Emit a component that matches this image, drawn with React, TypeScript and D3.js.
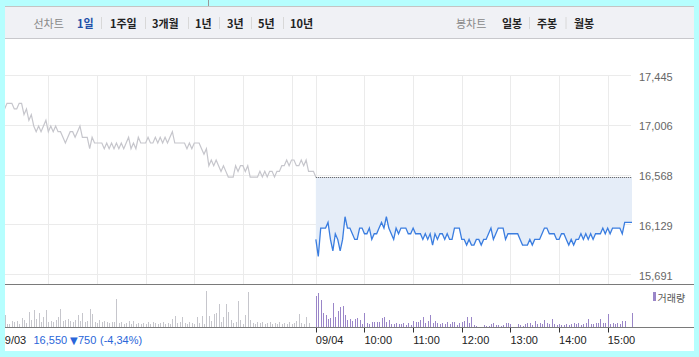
import React from 'react';
import * as d3 from 'd3';

const W = 699;
const H = 357;
const STEP = 3; // minutes per sample
const prevClose = 16550;
const yTicks = [15691, 16129, 16568, 17006, 17445];
const leftTabs = ['1일', '1주일', '3개월', '1년', '3년', '5년', '10년'];
const rightTabs = ['일봉', '주봉', '월봉'];
const dayLabels = ['09/03', '09/04'];
const hourLabels = ['10:00', '11:00', '12:00', '13:00', '14:00', '15:00'];
const summary = ['16,550', '▼', '750', '(-4,34%)'];

const day1Price = [
  17150, 17150, 17150, 17200, 17200, 17200, 17150, 17150, 17200, 17200,
  17100, 17150, 17050, 17100, 17000, 16950, 17000, 16950, 17000, 17050,
  16950, 17000, 16950, 17000, 16950, 16950, 16900, 16850, 16900, 16950,
  16950, 16900, 16950, 17000, 16900, 16900, 16900, 16800, 16900, 16850,
  16850, 16850, 16850, 16800, 16850, 16800, 16850, 16800, 16850, 16800,
  16850, 16800, 16850, 16900, 16800, 16850, 16800, 16900, 16850, 16850,
  16850, 16900, 16850, 16850, 16900, 16850, 16900, 16850, 16900, 16850,
  16900, 16950, 16850, 16850, 16850, 16850, 16850, 16800, 16850, 16800,
  16850, 16850, 16850, 16800, 16750, 16800, 16650, 16700, 16650, 16700,
  16650, 16600, 16650, 16600, 16550, 16550, 16550, 16650, 16600, 16650,
  16650, 16600, 16650, 16550, 16550, 16550, 16550, 16600, 16550, 16600,
  16550, 16600, 16600, 16550, 16600, 16600, 16650, 16650, 16700, 16650,
  16700, 16700, 16650, 16650, 16700, 16650, 16700, 16600, 16600, 16600,
  16550,
];

const day2Price = [
  16000, 15850, 16100, 16100, 16100, 16150, 16000, 15900, 16050, 16000,
  15900, 16000, 16200, 16100, 16100, 16050, 16000, 16000, 16100, 16100,
  16050, 16050, 16100, 16000, 16050, 16050, 16100, 16150, 16100, 16200,
  16100, 16050, 16000, 16100, 16050, 16100, 16100, 16100, 16050, 16050,
  16100, 16050, 16050, 16050, 16000, 16050, 16000, 16050, 15950, 16050,
  16000, 16050, 16050, 16000, 16050, 16000, 16000, 16100, 16100, 16100,
  16000, 16000, 15950, 16000, 15950, 15950, 16000, 16000, 15950, 16000,
  16000, 16050, 16100, 16000, 16050, 16100, 16100, 16100, 16000, 16050,
  16050, 16050, 16050, 16050, 16000, 15950, 15950, 15950, 16000, 15950,
  16000, 16000, 16000, 16050, 16100, 16100, 16050, 16050, 16050, 16000,
  16000, 16050, 16050, 16000, 15950, 16000, 15950, 16000, 16000, 16050,
  16000, 16050, 16000, 16050, 16000, 16050, 16050, 16050, 16100, 16050,
  16100, 16050, 16100, 16100, 16100, 16100, 16050, 16150, 16150, 16150,
  16150,
];

const day1Vol = [
  8, 10, 12, 3, 3, 6, 5, 6, 3, 9,
  7, 4, 15, 7, 17, 8, 14, 5, 10, 17,
  5, 6, 5, 7, 10, 18, 6, 7, 8, 6,
  5, 7, 12, 6, 14, 5, 6, 18, 13, 5,
  4, 7, 5, 6, 5, 4, 5, 5, 28, 4,
  5, 3, 4, 6, 3, 6, 3, 4, 3, 4,
  3, 5, 3, 5, 4, 3, 4, 5, 3, 4,
  3, 8, 11, 4, 5, 10, 4, 3, 5, 4,
  3, 10, 4, 11, 3, 36, 11, 6, 13, 14,
  23, 5, 10, 23, 15, 7, 4, 5, 26, 7,
  3, 12, 35, 7, 4, 3, 5, 4, 5, 3,
  4, 5, 3, 4, 3, 5, 3, 4, 3, 5,
  3, 4, 6, 13, 4, 3, 10, 4, 0, 0,
  8,
];

const day2Vol = [
  31, 34, 27, 14, 12, 8, 9, 24, 10, 16,
  20, 21, 12, 7, 8, 6, 8, 9, 7, 3,
  14, 4, 3, 5, 5, 5, 5, 9, 10, 5,
  7, 3, 3, 4, 3, 3, 4, 2, 4, 2,
  6, 5, 5, 7, 10, 4, 6, 12, 4, 6,
  4, 3, 4, 3, 5, 3, 5, 5, 2, 4,
  5, 6, 10, 4, 10, 2, 1, 0, 0, 2,
  1, 1, 3, 4, 2, 2, 1, 2, 4, 4,
  3, 0, 0, 3, 2, 1, 3, 4, 4, 2,
  6, 3, 4, 3, 7, 4, 3, 8, 3, 2,
  3, 2, 2, 3, 2, 3, 4, 3, 4, 2,
  3, 4, 8, 3, 3, 4, 4, 8, 4, 4,
  13, 3, 4, 3, 4, 3, 6, 6, 0, 0,
  14,
];

const KR = '"Noto Sans CJK KR", "Noto Sans", sans-serif';
const LAT = '"Liberation Sans", Arial, sans-serif';

export default function App() {
  const x = d3.scaleLinear().domain([0, 780]).range([-0.3, 632]);
  const y = d3.scaleLinear().domain([15691, 17445]).range([274.5, 75.5]);
  const v = d3.scaleLinear().domain([0, 43]).range([327, 284]);

  const d1: [number, number][] = day1Price.map((p, i) => [i * STEP, p]);
  const d2: [number, number][] = day2Price.map((p, j) => [390 + j * STEP, p]);
  const line = d3.line<[number, number]>().x((d) => x(d[0])).y((d) => y(d[1]));
  const area = d3
    .area<[number, number]>()
    .x((d) => x(d[0]))
    .y0(y(prevClose))
    .y1((d) => y(d[1]));

  const vGrid = [0, 60, 120, 180, 240, 300, 360, 390, 450, 510, 570, 630, 690, 750];
  const day2Ticks = [390, 450, 510, 570, 630, 690, 750];
  const px = (m: number) => Math.round(x(m)) + 0.5;
  const py = (p: number) => Math.floor(y(p)) + 0.5;

  const leftX = [77, 110, 152, 195, 227, 258, 290];
  const leftSep = [101, 145, 188, 219, 251, 283];
  const rightX = [502, 537, 574];
  const rightSep = [529.5, 566];

  return (
    <svg
      width={W}
      height={H}
      viewBox={`0 0 ${W} ${H}`}
      style={{ position: 'absolute', left: 0, top: 0, display: 'block' }}
    >
      <defs>
        <clipPath id="panel">
          <rect x={5} y={6} width={689} height={345} />
        </clipPath>
      </defs>
      <rect x={0} y={0} width={W} height={H} fill="#ffffff" />
      <g clipPath="url(#panel)">
        {yTicks.map((t) => (
          <line key={'h' + t} x1={5} x2={631} y1={py(t)} y2={py(t)} stroke="#ebebeb" />
        ))}
        {vGrid.map((m) => (
          <line key={'v' + m} x1={px(m)} x2={px(m)} y1={75} y2={284} stroke="#ebebeb" />
        ))}
        <path d={area(d2) || ''} fill="#e5edf8" />
        <line
          x1={x(390)}
          x2={x(780)}
          y1={Math.round(y(prevClose)) + 0.5}
          y2={Math.round(y(prevClose)) + 0.5}
          stroke="#555"
          strokeDasharray="1,1"
        />
        <path d={line(d1) || ''} fill="none" stroke="#c6c6cc" strokeWidth={1.2} />
        <path d={line(d2) || ''} fill="none" stroke="#3a7de0" strokeWidth={1.3} />
        {yTicks.map((t) => (
          <text
            key={'yl' + t}
            x={639}
            y={y(t) + 1}
            dominantBaseline="central"
            fontFamily={LAT}
            fontSize={11}
            fill="#666"
          >
            {d3.format(',')(t)}
          </text>
        ))}
        {day1Vol.map((val, i) => (
          <rect
            key={'a' + i}
            x={Math.round(x(i * STEP))}
            y={v(val)}
            width={1}
            height={327 - v(val)}
            fill="#c6c6cc"
          />
        ))}
        {day2Vol.map((val, j) => (
          <rect
            key={'b' + j}
            x={Math.round(x(390 + j * STEP))}
            y={v(val)}
            width={1}
            height={327 - v(val)}
            fill="#9a86c8"
          />
        ))}
        <line x1={5} x2={694} y1={284.5} y2={284.5} stroke="#7a7a7a" />
        <line x1={5} x2={694} y1={327.5} y2={327.5} stroke="#7a7a7a" />
        {day2Ticks.map((m) => (
          <line key={'t' + m} x1={px(m)} x2={px(m)} y1={328} y2={332.5} stroke="#333" />
        ))}
        <rect x={653} y={292} width={3} height={9} fill="#9a86c8" />
        <text x={657.5} y={297} dominantBaseline="central" fontFamily={KR} fontSize={10} fill="#555">
          거래량
        </text>
        <text x={x(0) - 1} y={344} fontFamily={LAT} fontSize={11} fill="#222">
          {dayLabels[0]}
        </text>
        <text x={x(390)} y={344} fontFamily={LAT} fontSize={11} fill="#222">
          {dayLabels[1]}
        </text>
        {hourLabels.map((h, k) => (
          <text key={h} x={x(450 + k * 60)} y={344} fontFamily={LAT} fontSize={11} fill="#222">
            {h}
          </text>
        ))}
        <text x={33.5} y={344} fontFamily={LAT} fontSize={11} fill="#2a66d9">
          {summary[0]}
        </text>
        <text x={70} y={343.5} fontFamily={'"DejaVu Sans", sans-serif'} fontSize={10} fill="#2a66d9">
          {summary[1]}
        </text>
        <text x={78} y={344} fontFamily={LAT} fontSize={11} fill="#2a66d9">
          {summary[2]}
        </text>
        <text x={100} y={344} fontFamily={LAT} fontSize={11} fill="#2a66d9">
          {summary[3]}
        </text>
      </g>

      <rect x={5} y={6} width={689} height={32} fill="#f0f1f5" />
      <line x1={5} x2={694} y1={6.5} y2={6.5} stroke="#c4c4c4" />
      <line x1={5} x2={694} y1={38.5} y2={38.5} stroke="#c8c8cc" />
      <text x={33.5} y={23} dominantBaseline="central" fontFamily={KR} fontSize={11} fill="#888">
        선차트
      </text>
      {leftTabs.map((t, k) => (
        <text
          key={t}
          x={leftX[k]}
          y={23}
          dominantBaseline="central"
          fontFamily={KR}
          fontSize={11}
          fontWeight="bold"
          fill={k === 0 ? '#2250a8' : '#222'}
        >
          {t}
        </text>
      ))}
      {leftSep.map((s) => (
        <line key={'ls' + s} x1={s + 0.5} x2={s + 0.5} y1={17} y2={29} stroke="#d8d8d8" />
      ))}
      <text x={456} y={23} dominantBaseline="central" fontFamily={KR} fontSize={11} fill="#888">
        봉차트
      </text>
      {rightTabs.map((t, k) => (
        <text
          key={t}
          x={rightX[k]}
          y={23}
          dominantBaseline="central"
          fontFamily={KR}
          fontSize={11}
          fontWeight="bold"
          fill="#222"
        >
          {t}
        </text>
      ))}
      {rightSep.map((s) => (
        <line key={'rs' + s} x1={s} x2={s} y1={17} y2={29} stroke="#d8d8d8" />
      ))}

      <rect x={0} y={0} width={W} height={6} fill="#b6fefe" />
      <rect x={0} y={0} width={5} height={H} fill="#b6fefe" />
      <rect x={694} y={0} width={5} height={H} fill="#b6fefe" />
      <rect x={0} y={351} width={W} height={6} fill="#b6fefe" />
      <line x1={208.5} x2={208.5} y1={0} y2={6} stroke="#999" />
    </svg>
  );
}
